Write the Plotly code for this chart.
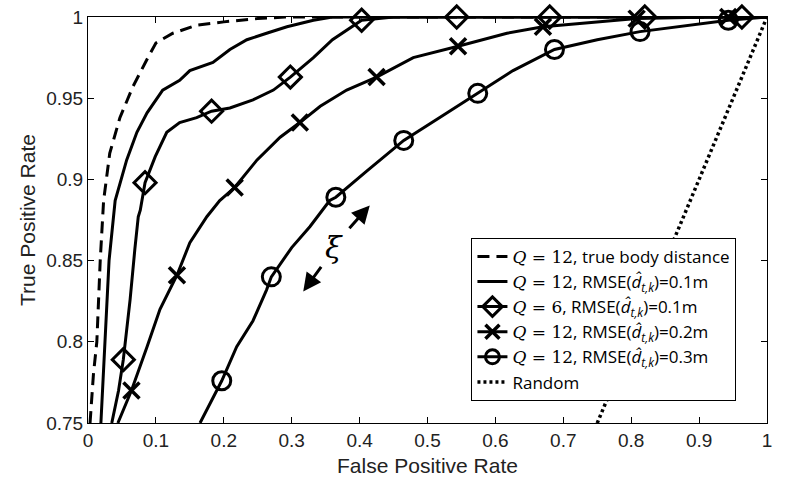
import plotly.graph_objects as go

# ---- data ----
true_x = [0.003, 0.008, 0.013, 0.018, 0.023, 0.032, 0.047, 0.066, 0.087, 0.10, 0.125, 0.16, 0.20, 0.25, 0.29, 1.0]
true_y = [0.75, 0.78, 0.80, 0.85, 0.887, 0.916, 0.938, 0.957, 0.974, 0.984, 0.990, 0.995, 0.997, 0.999, 1.0, 1.0]

q12_01_x = [0.019, 0.025, 0.031, 0.040, 0.057, 0.072, 0.087, 0.11, 0.135, 0.15, 0.184, 0.209, 0.234, 0.263, 0.293, 0.332, 0.36, 1.0]
q12_01_y = [0.75, 0.80, 0.85, 0.887, 0.912, 0.929, 0.941, 0.955, 0.961, 0.967, 0.972, 0.980, 0.986, 0.990, 0.994, 0.998, 1.0, 1.0]

q6_x = [0.035, 0.045, 0.052, 0.062, 0.069, 0.074, 0.077, 0.084, 0.099, 0.116, 0.135, 0.16, 0.182, 0.209, 0.243, 0.273, 0.298, 0.332, 0.36, 0.403, 0.45, 1.0]
q6_y = [0.75, 0.77, 0.789, 0.826, 0.857, 0.877, 0.881, 0.898, 0.914, 0.929, 0.935, 0.938, 0.942, 0.944, 0.949, 0.955, 0.963, 0.975, 0.986, 0.998, 1.0, 1.0]
q6_mx = [0.052, 0.084, 0.182, 0.298, 0.403, 0.543, 0.68, 0.82, 0.963]
q6_my = [0.789, 0.898, 0.942, 0.963, 0.998, 1.0, 1.0, 1.0, 1.0]

q12_02_x = [0.044, 0.064, 0.087, 0.106, 0.131, 0.150, 0.175, 0.194, 0.216, 0.249, 0.283, 0.312, 0.342, 0.381, 0.425, 0.479, 0.545, 0.617, 0.67, 0.75, 0.808, 0.92, 0.943, 1.0]
q12_02_y = [0.75, 0.77, 0.797, 0.82, 0.841, 0.861, 0.877, 0.887, 0.895, 0.912, 0.926, 0.935, 0.945, 0.955, 0.963, 0.975, 0.982, 0.990, 0.994, 0.997, 0.999, 1.0, 1.0, 1.0]
q12_02_mx = [0.064, 0.131, 0.216, 0.312, 0.425, 0.545, 0.67, 0.808, 0.943]
q12_02_my = [0.77, 0.841, 0.895, 0.935, 0.963, 0.982, 0.994, 0.999, 1.0]

q12_03_x = [0.165, 0.184, 0.197, 0.219, 0.243, 0.263, 0.27, 0.30, 0.327, 0.356, 0.365, 0.41, 0.465, 0.529, 0.574, 0.626, 0.687, 0.75, 0.813, 0.872, 0.943, 1.0]
q12_03_y = [0.75, 0.766, 0.776, 0.797, 0.813, 0.832, 0.84, 0.858, 0.871, 0.887, 0.889, 0.905, 0.924, 0.941, 0.953, 0.967, 0.980, 0.986, 0.991, 0.994, 0.998, 1.0]
q12_03_mx = [0.197, 0.27, 0.365, 0.465, 0.574, 0.687, 0.813, 0.943]
q12_03_my = [0.776, 0.84, 0.889, 0.924, 0.953, 0.980, 0.991, 0.998]

random_x = [0.0, 1.0]
random_y = [0.0, 1.0]

x_ticks = [0, 0.1, 0.2, 0.3, 0.4, 0.5, 0.6, 0.7, 0.8, 0.9, 1.0]
x_labels = ["0", "0.1", "0.2", "0.3", "0.4", "0.5", "0.6", "0.7", "0.8", "0.9", "1"]
y_ticks = [0.75, 0.8, 0.85, 0.9, 0.95, 1.0]
y_labels = ["0.75", "0.8", "0.85", "0.9", "0.95", "1"]

Q = "<span style=\"font-family:'DejaVu Serif'\"><i>Q</i> = %s</span>"
RM = "RMSE(<i>d̂</i><sub><i>t,k</i></sub>)=%s"
names = [
    Q % "12" + ", true body distance",
    Q % "12" + ", " + RM % "0.1m",
    Q % "6" + ", " + RM % "0.1m",
    Q % "12" + ", " + RM % "0.2m",
    Q % "12" + ", " + RM % "0.3m",
    "Random",
]

K = "black"
LW = 3
fig = go.Figure()

# curves (no legend)
fig.add_trace(go.Scatter(x=true_x, y=true_y, mode="lines", line=dict(color=K, width=LW, dash="12px,7px"), showlegend=False))
fig.add_trace(go.Scatter(x=q12_01_x, y=q12_01_y, mode="lines", line=dict(color=K, width=LW), showlegend=False))
fig.add_trace(go.Scatter(x=q6_x, y=q6_y, mode="lines", line=dict(color=K, width=LW), showlegend=False))
fig.add_trace(go.Scatter(x=q12_02_x, y=q12_02_y, mode="lines", line=dict(color=K, width=LW), showlegend=False))
fig.add_trace(go.Scatter(x=q12_03_x, y=q12_03_y, mode="lines", line=dict(color=K, width=LW), showlegend=False))
fig.add_trace(go.Scatter(x=random_x, y=random_y, mode="lines", line=dict(color=K, width=3.5, dash="3px,3px"), showlegend=False))

# markers
fig.add_trace(go.Scatter(x=q6_mx, y=q6_my, mode="markers", cliponaxis=False,
                         marker=dict(symbol="diamond-open", size=17, color=K, line=dict(width=3, color=K)), showlegend=False))
fig.add_trace(go.Scatter(x=q12_02_mx, y=q12_02_my, mode="markers", cliponaxis=False,
                         marker=dict(symbol="x-thin-open", size=16, color=K, line=dict(width=3.5, color=K)), showlegend=False))
fig.add_trace(go.Scatter(x=q12_03_mx, y=q12_03_my, mode="markers", cliponaxis=False,
                         marker=dict(symbol="circle-open", size=18, color=K, line=dict(width=3, color=K)), showlegend=False))

# legend entries
leg_styles = [
    dict(mode="lines", line=dict(color=K, width=LW, dash="12px,7px")),
    dict(mode="lines", line=dict(color=K, width=LW)),
    dict(mode="lines+markers", line=dict(color=K, width=LW), marker=dict(symbol="diamond-open", size=15, color=K, line=dict(width=3, color=K))),
    dict(mode="lines+markers", line=dict(color=K, width=LW), marker=dict(symbol="x-thin-open", size=14, color=K, line=dict(width=3.5, color=K))),
    dict(mode="lines+markers", line=dict(color=K, width=LW), marker=dict(symbol="circle-open", size=14, color=K, line=dict(width=3, color=K))),
    dict(mode="lines", line=dict(color=K, width=3.5, dash="3px,3px")),
]
for nm, st in zip(names, leg_styles):
    fig.add_trace(go.Scatter(x=[None], y=[None], name=nm, showlegend=True, **st))

# xi annotation with arrows
fig.add_annotation(x=0.362, y=0.858, text="<i>ξ</i>", showarrow=False,
                   font=dict(family="DejaVu Serif", size=30, color=K))
fig.add_annotation(x=0.415, y=0.884, ax=0.383, ay=0.869, axref="x", ayref="y", text="",
                   showarrow=True, arrowhead=2, arrowsize=1.2, arrowwidth=3, arrowcolor=K)
fig.add_annotation(x=0.317, y=0.831, ax=0.345, ay=0.847, axref="x", ayref="y", text="",
                   showarrow=True, arrowhead=2, arrowsize=1.2, arrowwidth=3, arrowcolor=K)

axis_common = dict(showline=True, linecolor=K, linewidth=1, mirror="ticks", ticks="inside",
                   ticklen=6, tickcolor=K, showgrid=False, zeroline=False, automargin=False,
                   tickfont=dict(family="Liberation Sans, Arial", size=19, color="#222"))

fig.update_layout(
    width=786, height=501,
    margin=dict(l=88, r=19, t=17, b=78),
    paper_bgcolor="white", plot_bgcolor="white",
    xaxis=dict(range=[0, 1], tickvals=x_ticks, ticktext=x_labels,
               title=dict(text="False Positive Rate", standoff=8,
                          font=dict(family="Liberation Sans, Arial", size=21, color="#222")),
               **axis_common),
    yaxis=dict(range=[0.75, 1], tickvals=y_ticks, ticktext=y_labels,
               title=dict(text="True Positive Rate", standoff=4,
                          font=dict(family="Liberation Sans, Arial", size=21, color="#222")),
               **axis_common),
    legend=dict(x=0.955, y=0.456, xanchor="right", yanchor="top",
                bordercolor=K, borderwidth=1, bgcolor="white",
                font=dict(family="Open Sans", size=17, color=K),
                tracegroupgap=0, itemwidth=30),
    showlegend=True,
)

fig.write_html("out.html", config={"displayModeBar": False},
               post_script="document.body.style.margin='0';")
